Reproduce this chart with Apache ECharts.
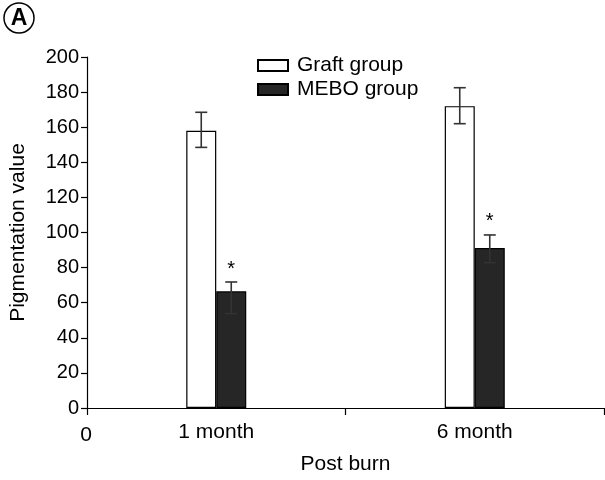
<!DOCTYPE html>
<html>
<head>
<meta charset="utf-8">
<script src="https://cdn.jsdelivr.net/npm/echarts@6/dist/echarts.min.js"></script>
<style>html,body{margin:0;padding:0;background:#fff}#c{width:605px;height:480px}</style>
</head>
<body>
<div id="c"></div>
<script>
// ---- data ----
var categories = ['1 month', '6 month'];
var seriesNames = ['Graft group', 'MEBO group'];
var graftMean = [158, 172];
var graftLow = [148.5, 162];
var graftHigh = [168.5, 182.5];
var meboMean = [66.5, 91.2];
var meboLow = [53.8, 82.8];
var meboHigh = [71.8, 98.6];
var meboSignificant = [true, true];
var yTicks = [0, 20, 40, 60, 80, 100, 120, 140, 160, 180, 200];
var xOriginLabel = '0';
var panelLabel = 'A';

var FONT = '"Liberation Sans", Arial, sans-serif';
var BAR_W = 30;

function errData(low, high, sig) {
  return categories.map(function (c, i) { return [i, low[i], high[i], sig ? (sig[i] ? 1 : 0) : 0]; });
}

function makeErr(offset) {
  return function (params, api) {
    var i = api.value(0);
    var lo = api.coord([i, api.value(1)]);
    var hi = api.coord([i, api.value(2)]);
    var x = lo[0] + offset;
    var cap = 6;
    var style = { stroke: '#333', lineWidth: 1.6 };
    var children = [
      { type: 'line', shape: { x1: x, y1: lo[1], x2: x, y2: hi[1] }, style: style },
      { type: 'line', shape: { x1: x - cap, y1: lo[1], x2: x + cap, y2: lo[1] }, style: style },
      { type: 'line', shape: { x1: x - cap, y1: hi[1], x2: x + cap, y2: hi[1] }, style: style }
    ];
    if (api.value(3) === 1) {
      children.push({ type: 'text', style: { text: '*', x: x, y: hi[1] - 13, align: 'center', verticalAlign: 'middle', font: '20px ' + FONT, fill: '#000' } });
    }
    return { type: 'group', children: children };
  };
}

var chart = echarts.init(document.getElementById('c'), null, { renderer: 'canvas' });
chart.setOption({
  animation: false,
  backgroundColor: '#fff',
  textStyle: { fontFamily: FONT },
  grid: { left: 86, right: 1, top: 57, bottom: 71 },
  legend: {
    orient: 'vertical', left: 252, top: 50,
    itemWidth: 30, itemHeight: 11, itemGap: 3,
    icon: 'rect',
    textStyle: { fontSize: 21, color: '#000', fontFamily: FONT, padding: [0, 0, 0, 4] },
    data: seriesNames
  },
  xAxis: {
    type: 'category', data: categories, boundaryGap: true,
    axisLine: { lineStyle: { color: '#000', width: 1.2 } },
    axisTick: { show: true, length: 7, lineStyle: { color: '#000', width: 1.2 } },
    axisLabel: { fontSize: 21, color: '#000', margin: 14, fontFamily: FONT },
    name: 'Post burn', nameLocation: 'middle', nameGap: 46,
    nameTextStyle: { fontSize: 21, color: '#000', fontFamily: FONT }
  },
  yAxis: {
    type: 'value', min: yTicks[0], max: yTicks[yTicks.length - 1], interval: yTicks[1] - yTicks[0],
    splitLine: { show: false },
    axisLine: { show: true, lineStyle: { color: '#000', width: 1.2 } },
    axisTick: { show: true, length: 6, lineStyle: { color: '#000', width: 1.2 } },
    axisLabel: { fontSize: 20, color: '#000', margin: 8, fontFamily: FONT },
    name: 'Pigmentation value', nameLocation: 'middle', nameGap: 58,
    nameTextStyle: { fontSize: 21, color: '#000', fontFamily: FONT }
  },
  graphic: [
    { type: 'circle', shape: { cx: 19, cy: 18, r: 15 }, style: { fill: '#fff', stroke: '#000', lineWidth: 1.5 } },
    { type: 'text', style: { text: panelLabel, x: 19, y: 19, align: 'center', verticalAlign: 'middle', font: 'bold 23px ' + FONT, fill: '#000' } },
    { type: 'text', style: { text: xOriginLabel, x: 86, y: 435, align: 'center', verticalAlign: 'middle', font: '21px ' + FONT, fill: '#000' } }
  ],
  series: [
    { name: seriesNames[0], type: 'bar', data: graftMean, barWidth: BAR_W, barGap: '0%',
      itemStyle: { color: '#fff', borderColor: '#000', borderWidth: 1.2 } },
    { name: seriesNames[1], type: 'bar', data: meboMean, barWidth: BAR_W, barGap: '0%',
      itemStyle: { color: '#262626', borderColor: '#000', borderWidth: 1.2 } },
    { type: 'custom', renderItem: makeErr(-BAR_W / 2), data: errData(graftLow, graftHigh), z: 5 },
    { type: 'custom', renderItem: makeErr(BAR_W / 2), data: errData(meboLow, meboHigh, meboSignificant), z: 5 }
  ]
});
</script>
</body>
</html>
